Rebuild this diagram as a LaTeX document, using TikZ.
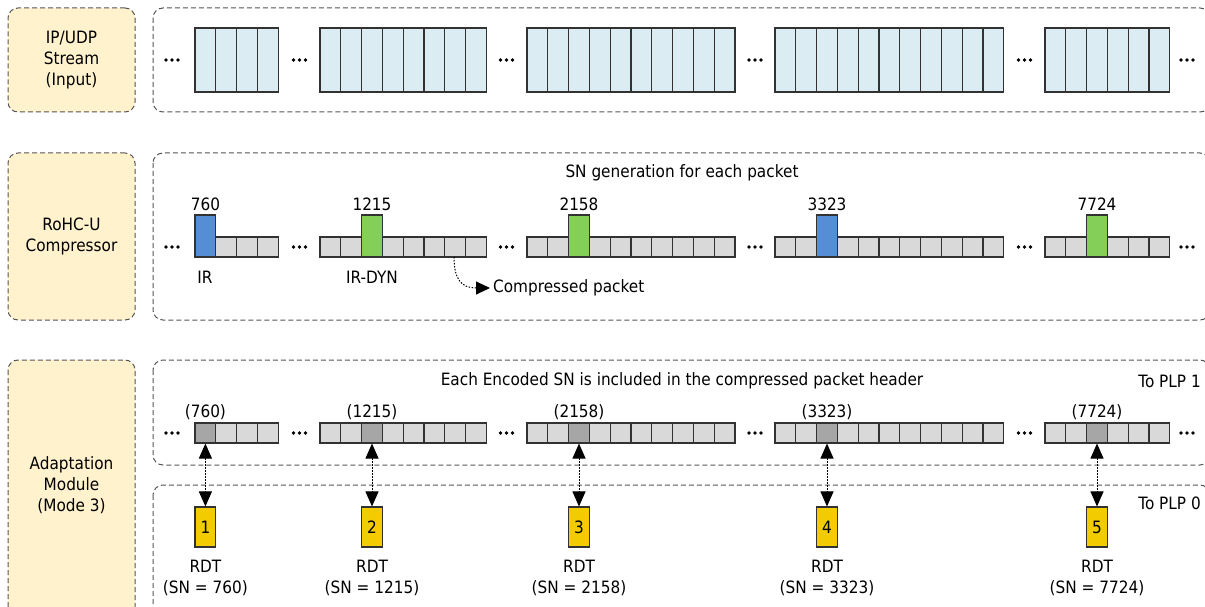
\documentclass[tikz,border=0pt]{standalone}
\usepackage{fontspec}
\setmainfont{DejaVu Sans}[FakeStretch=0.9]
\usetikzlibrary{arrows.meta}
\definecolor{dashgray}{RGB}{85,85,85}
\definecolor{labelyellow}{RGB}{255,242,204}
\definecolor{cellblue}{RGB}{219,236,243}
\definecolor{cellgray}{RGB}{217,217,217}
\definecolor{hdark}{RGB}{166,166,166}
\definecolor{hblue}{RGB}{85,142,213}
\definecolor{hgreen}{RGB}{132,207,88}
\definecolor{rdtyellow}{RGB}{242,203,0}
\definecolor{celledge}{RGB}{50,50,50}
\tikzset{
  dbox/.style={draw=dashgray, dash pattern=on 5pt off 3pt, line width=1pt, rounded corners=10pt},
  lbox/.style={dbox, fill=labelyellow},
  cellA/.style={draw=celledge, line width=1.1pt, fill=cellblue},
  cellB/.style={draw=celledge, line width=1.1pt, fill=cellgray},
  hcell/.style={draw=celledge, line width=1.1pt, minimum width=20.8pt, minimum height=20pt, inner sep=0pt},
  rdtbox/.style={draw=celledge, line width=1.1pt, fill=rdtyellow, minimum width=20.8pt, minimum height=40pt, inner sep=0pt},
  link/.style={dash pattern=on 1.5pt off 1.5pt, line width=1pt, {Triangle[length=15pt,width=13pt]}-{Triangle[length=15pt,width=13pt]}},
  lbl/.style={align=center, inner sep=0pt}
}
\newcommand\mydots[2]{\fill ({#1-6},#2) circle (1.8) (#1,#2) circle (1.8) ({#1+6},#2) circle (1.8);}
\begin{document}
\begin{tikzpicture}[x=1pt,y=-1pt, font=\fontsize{17}{21}\selectfont]
\useasboundingbox (0,0) rectangle (1205,607);
\clip (0,0) rectangle (1205,607);

% left label boxes
\node[lbox, minimum width=127pt, minimum height=104pt, align=center] (L1) at (71.5,60) {IP/UDP\\Stream\\(Input)};
\node[lbox, minimum width=127pt, minimum height=167pt, align=center] (L2) at (71.5,236.5) {RoHC-U\\Compressor};
\draw[lbox] (8,360) rectangle (135,650);
\node[lbl] (L3) at (71.5,485) {Adaptation\\Module\\(Mode 3)};

% right frames
\draw[dbox] (153,8) rectangle (1210,112);
\draw[dbox] (153,153) rectangle (1210,320);
\draw[dbox] (153,360) rectangle (1210,465);
\draw[dbox] (153,485) rectangle (1210,650);

% row 1: IP/UDP stream
\foreach \s/\n in {195/4,320/8,527/10,775/11,1045/6}{
  \foreach \i in {1,...,\n}{
    \draw[cellA] ({\s+(\i-1)*20.8},28) rectangle ++(20.8,64);
  }
}
% ellipses
\foreach \x in {172,299.5,506.5,755,1024.5,1187}{
  \mydots{\x}{60}
  \mydots{\x}{247}
  \mydots{\x}{433}
}

% rows 2 and 3
\foreach \s/\n/\h/\col/\lab/\k in {195/4/1/hblue/760/1,320/8/3/hgreen/1215/2,527/10/3/hgreen/2158/3,775/11/3/hblue/3323/4,1045/6/3/hgreen/7724/5}{
  \foreach \i in {1,...,\n}{
    \draw[cellB] ({\s+(\i-1)*20.8},237) rectangle ++(20.8,20);
    \draw[cellB] ({\s+(\i-1)*20.8},423) rectangle ++(20.8,20);
  }
  \pgfmathsetmacro\hx{\s+(\h-0.5)*20.8}
  \node[hcell, fill=\col, minimum height=42pt] (c\k) at (\hx,236) {};
  \node[lbl] (n\k) at (\hx,204) {\lab};
  \node[hcell, fill=hdark] (p\k) at (\hx,433) {};
  \node[lbl] (q\k) at (\hx,412) {(\lab)};
  \node[rdtbox] (r\k) at (\hx,527) {\k};
  \node[lbl] (t\k) at (\hx,578) {RDT\\(SN = \lab)};
  \draw[link] (p\k.south) -- (r\k.north);
}

% texts
\node[lbl] (sngen) at (682,173) {SN generation for each packet};
\node[lbl] (ir) at (205,277) {IR};
\node[lbl] (irdyn) at (372,277) {IR-DYN};
\node[lbl, anchor=west] (cptext) at (493,288) {Compressed packet};
\coordinate (cp) at (454,257);
\draw[dash pattern=on 1.5pt off 1.5pt, line width=1pt, -{Triangle[length=14pt,width=13pt]}] (cp) .. controls (454,280) and (462,288) .. ([xshift=-3pt]cptext.west);
\node[lbl] (enc) at (682,381) {Each Encoded SN is included in the compressed packet header};
\node[lbl, anchor=east] (plp1) at (1201,381) {To PLP 1};
\node[lbl, anchor=east] (plp0) at (1201,503) {To PLP 0};
\end{tikzpicture}
\end{document}
